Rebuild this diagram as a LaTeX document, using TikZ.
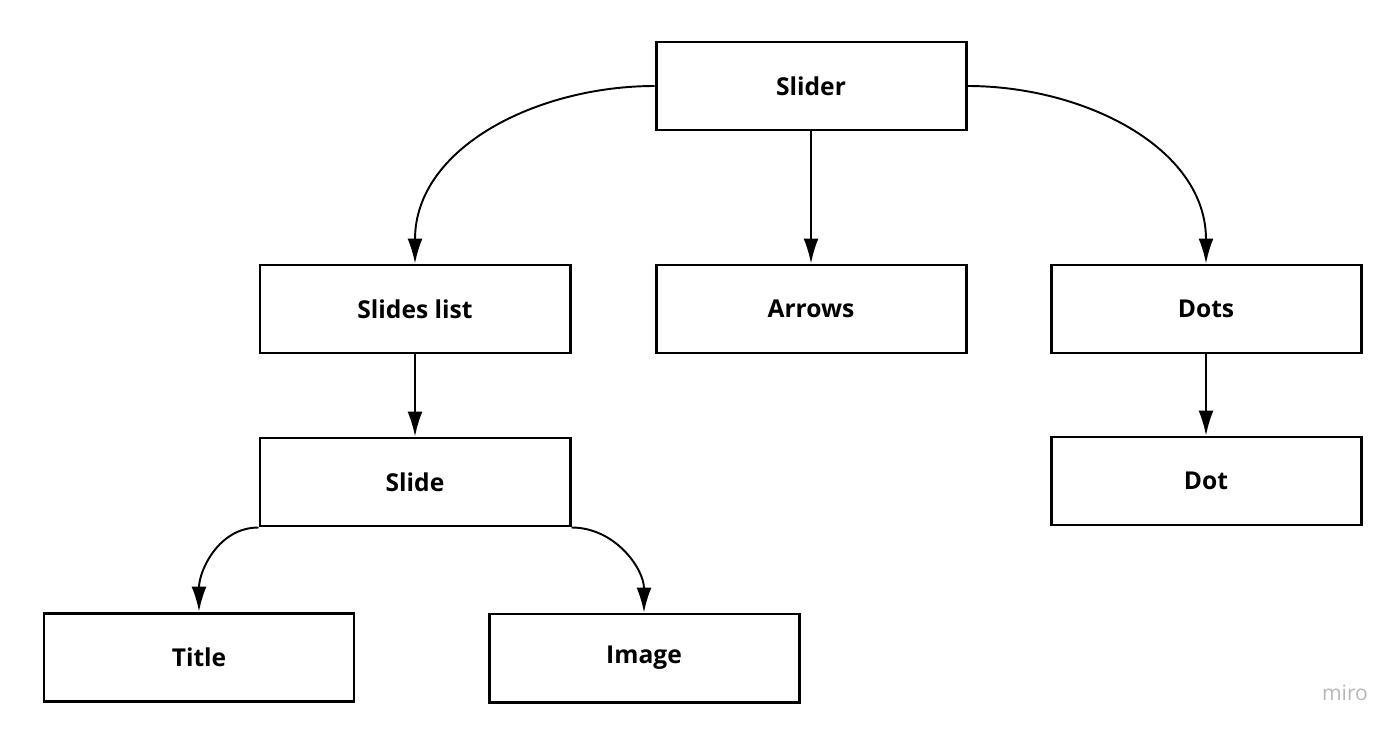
\documentclass[tikz,border=0pt]{standalone}
\usepackage{fontspec}
\setmainfont{Open Sans}
\usetikzlibrary{arrows.meta}

\begin{document}
\begin{tikzpicture}[>={Latex[length=5mm,width=3mm]},line width=1.1pt]
\tikzstyle{box}=[rectangle,draw,black,line width=1.7pt,minimum width=6.2cm,minimum height=1.76cm,font=\fontsize{14}{16}\selectfont\bfseries]
\useasboundingbox (0,0) rectangle (28,14.68);
\node[box](slider) at (16.22,12.96) {Slider};
\node[box](list) at (8.30,8.50) {Slides list};
\node[box](arrows) at (16.22,8.50) {Arrows};
\node[box](dots) at (24.12,8.50) {Dots};
\node[box](slide) at (8.30,5.04) {Slide};
\node[box](dot) at (24.12,5.06) {Dot};
\node[box](title) at (3.98,1.54) {Title};
\node[box](image) at (12.88,1.52) {Image};
\node[text=black!28,font=\fontsize{12}{14}\selectfont](miro) at (26.9,0.82) {miro};

\draw[->] (slider.west) to[out=180,in=90] (list.north);
\draw[->] (slider.south) -- (arrows.north);
\draw[->] (slider.east) to[out=0,in=90] (dots.north);
\draw[->] (list.south) -- (slide.north);
\draw[->] (dots.south) -- (dot.north);
\draw[->] (slide.south west) to[out=180,in=90] (title.north);
\draw[->] (slide.south east) to[out=0,in=90] (image.north);
\end{tikzpicture}
\end{document}
